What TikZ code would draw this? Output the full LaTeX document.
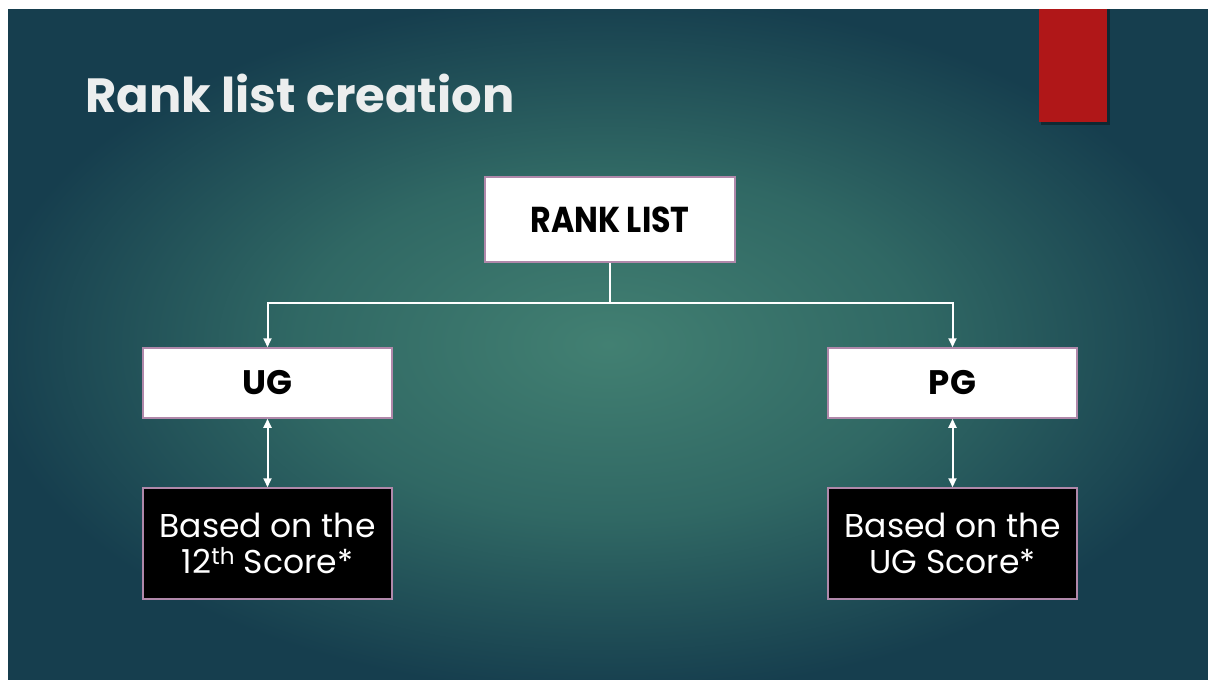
\documentclass[tikz,border=0pt]{standalone}
\usepackage{fontspec}
\setmainfont{Poppins}
\usetikzlibrary{positioning}
\usetikzlibrary{arrows.meta}
\definecolor{bgInner}{RGB}{66,128,114}
\definecolor{bgMid}{RGB}{48,104,100}
\definecolor{bgOuter}{RGB}{22,62,78}
\definecolor{edgeMauve}{RGB}{176,136,170}
\definecolor{slideRed}{RGB}{176,23,24}
\definecolor{titleGray}{RGB}{236,238,238}
\pgfdeclareradialshading{slidebg}{\pgfpoint{0bp}{0bp}}{color(0bp)=(bgInner); color(13bp)=(bgMid); color(26bp)=(bgOuter); color(50bp)=(bgOuter)}
\tikzset{myboxTop/.style={draw=edgeMauve, line width=1.5pt, fill=white, minimum width=250pt, minimum height=85pt, inner sep=0pt, font=\bfseries\fontsize{36}{40}\selectfont}}
\tikzset{myboxMid/.style={draw=edgeMauve, line width=1.5pt, fill=white, minimum width=249pt, minimum height=70pt, inner sep=0pt, font=\bfseries\fontsize{34}{38}\selectfont}}
\tikzset{myboxNote/.style={draw=edgeMauve, line width=1.5pt, fill=black, text=white, minimum width=249pt, minimum height=111pt, inner sep=0pt, align=center, font=\fontsize{33}{36}\selectfont}}
\tikzset{myarrow/.style={draw=white, line width=2pt, -{Triangle[length=9pt,width=8pt]}}}

\begin{document}
\begin{tikzpicture}[x=1pt, y=-1pt]

\useasboundingbox (0, 0) rectangle (1208, 680);
\shade[shading=slidebg] (8, 9) rectangle (1208, 680);

\fill[black, opacity=0.35] (1041, 9) rectangle (1110, 125);
\fill[slideRed] (1039, 9) rectangle (1107, 122);

\node[anchor=base west, inner sep=0pt, text=titleGray, font=\bfseries\fontsize{48}{54}\selectfont] (title) at (85, 112) {Rank list creation};

\node[myboxTop] (rank) at (610, 219.5) {\scalebox{0.88}[1]{RANK~LIST}};

\node[myboxMid] (ug) at (267.5, 383) {UG};
\node[myboxMid] (pg) at (952.5, 383) {PG};

\node[myboxNote] (ugnote) at (267.5, 543.5) {Based on the\\12\textsuperscript{th} Score*};
\node[myboxNote] (pgnote) at (952.5, 543.5) {Based on the\\UG Score*};

\coordinate[below=40pt of rank.south] (split);

\draw[draw=white, line width=2pt] (rank.south) -- (split);
\draw[myarrow] (split) -| (ug.north);
\draw[myarrow] (split) -| (pg.north);

\draw[myarrow, {Triangle[length=9pt,width=8pt]}-{Triangle[length=9pt,width=8pt]}] (ug) -- (ugnote);
\draw[myarrow, {Triangle[length=9pt,width=8pt]}-{Triangle[length=9pt,width=8pt]}] (pg) -- (pgnote);

\end{tikzpicture}
\end{document}
